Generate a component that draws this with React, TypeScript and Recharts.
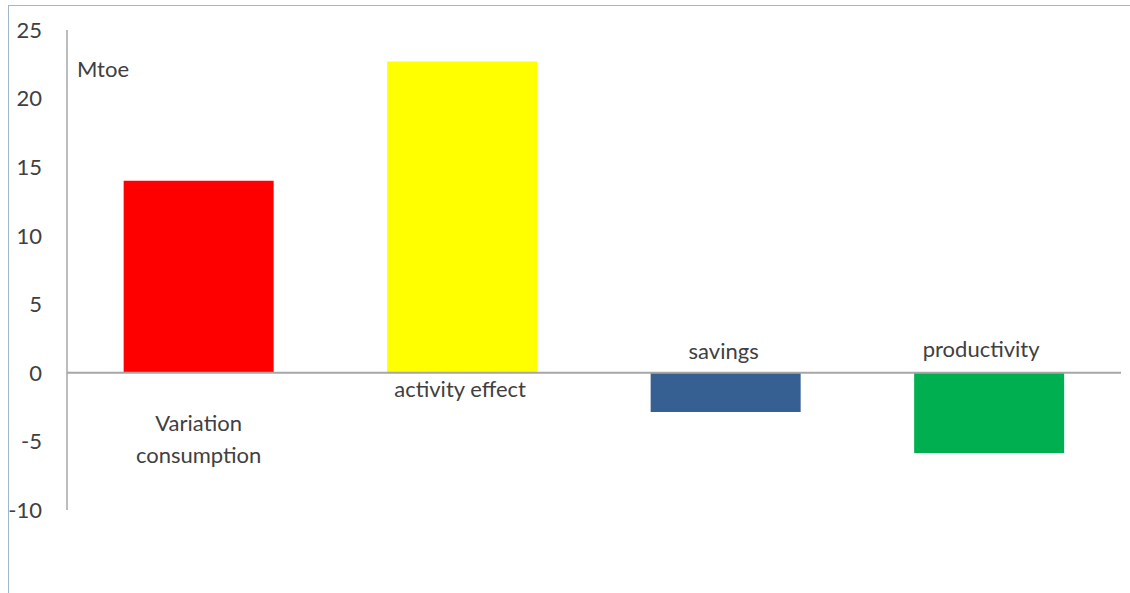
import { BarChart, Bar, XAxis, YAxis, ReferenceLine, Cell, LabelList } from "recharts";

// Decomposition of the consumption change, in Mtoe
const categories = ["Variation consumption", "activity effect", "savings", "productivity"];
const values = [14.0, 22.7, -2.85, -5.85];
const barColors = ["#ff0000", "#ffff00", "#376092", "#00b050"];
const yTicks = [-10, -5, 0, 5, 10, 15, 20, 25];

// where each category name sits, relative to the zero line and bar centre
const labelPlacement = [
  { dx: 0, dy: 49, lines: ["Variation", "consumption"] },
  { dx: -2, dy: 15, lines: ["activity effect"] },
  { dx: -2, dy: -23, lines: ["savings"] },
  { dx: -8, dy: -25, lines: ["productivity"] },
];

const chartData = categories.map((name, i) => ({ name, value: values[i] }));

const FONT = "Lato, 'Open Sans', sans-serif";
const TEXT = "#404040";
const LINE_GAP = 32;

function CategoryLabel(props: any) {
  const { x, y, width, height, index, value } = props;
  const top = Math.min(y, y + height);
  const bottom = Math.max(y, y + height);
  const zeroY = value >= 0 ? bottom : top;
  const place = labelPlacement[index];
  const cx = x + width / 2 + place.dx;
  return (
    <text
      x={cx}
      y={zeroY + place.dy}
      textAnchor="middle"
      dominantBaseline="central"
      fontFamily={FONT}
      fontSize={22}
      fill={TEXT}
    >
      {place.lines.map((line: string, i: number) => (
        <tspan key={line} x={cx} dy={i === 0 ? 0 : LINE_GAP}>
          {line}
        </tspan>
      ))}
    </text>
  );
}

export default function App() {
  return (
    <div
      style={{
        position: "absolute",
        left: 0,
        top: 0,
        width: 1130,
        height: 593,
        background: "#ffffff",
        overflow: "hidden",
      }}
    >
      <div
        style={{
          position: "absolute",
          left: 8,
          top: 5,
          right: 0,
          bottom: 0,
          borderLeft: "1.5px solid #a3b5c9",
          borderTop: "1.5px solid #a3b5c9",
        }}
      />
      <BarChart
        width={1130}
        height={593}
        data={chartData}
        margin={{ top: 30, right: 9, bottom: 83, left: 10 }}
        barCategoryGap="21.5%"
        style={{ position: "absolute", left: 0, top: 0 }}
      >
        <XAxis dataKey="name" hide />
        <YAxis
          width={57}
          domain={[-10, 25]}
          ticks={yTicks}
          interval={0}
          axisLine={{ stroke: "#a6a6a6", strokeWidth: 1.5 }}
          tickLine={false}
          tickSize={0}
          tickMargin={25}
          tick={{ fontSize: 22, fill: TEXT, fontFamily: FONT }}
        />
        <ReferenceLine y={0} stroke="#a6a6a6" strokeWidth={2} />
        <Bar dataKey="value" isAnimationActive={false}>
          {chartData.map((d, i) => (
            <Cell key={d.name} fill={barColors[i]} />
          ))}
          <LabelList dataKey="value" content={<CategoryLabel />} />
        </Bar>
      </BarChart>
      <div
        style={{
          position: "absolute",
          left: 77,
          top: 55,
          fontFamily: FONT,
          fontSize: 22,
          color: TEXT,
        }}
      >
        Mtoe
      </div>
    </div>
  );
}
